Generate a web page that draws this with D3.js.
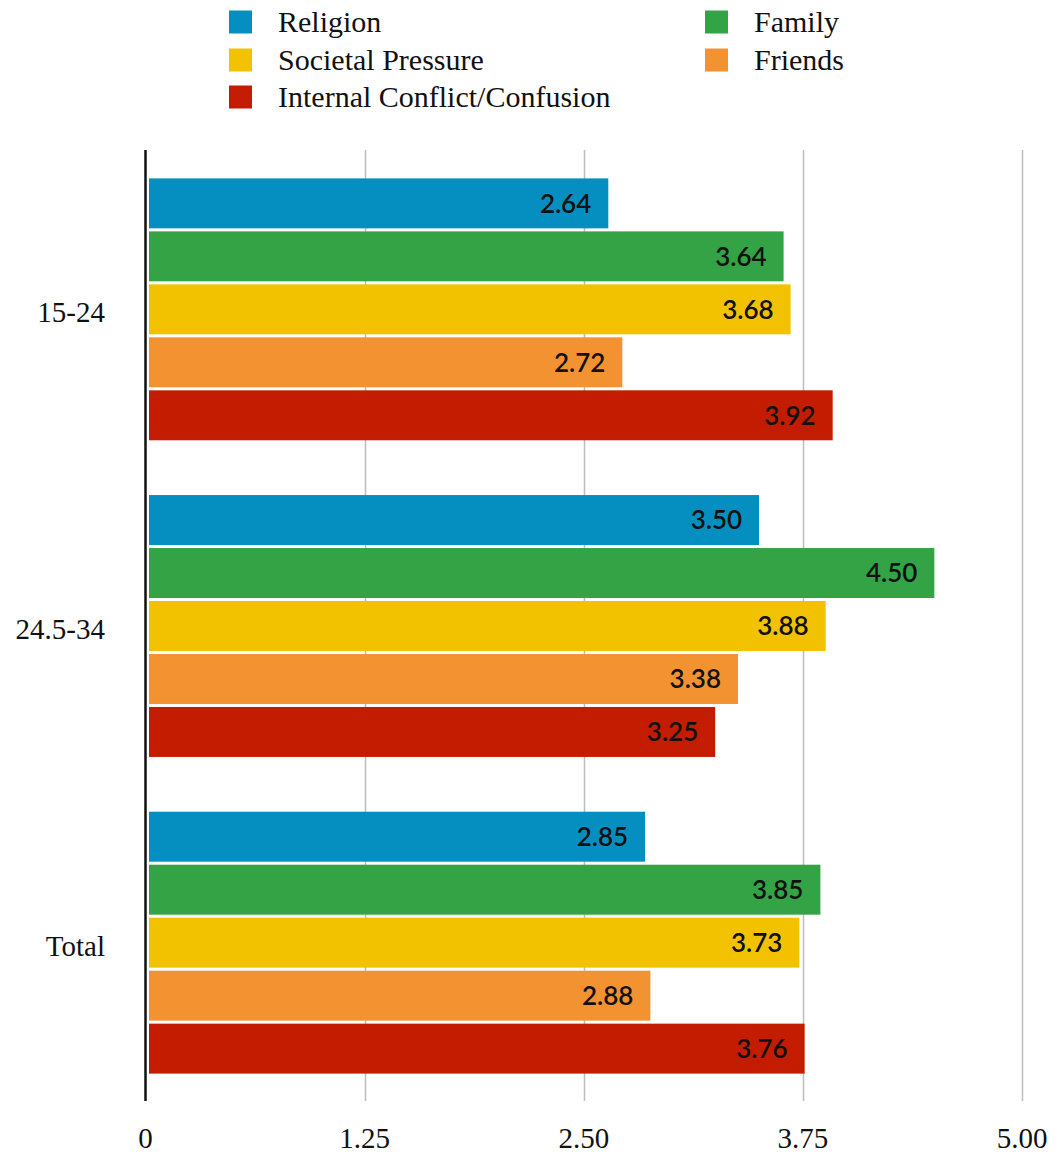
<!DOCTYPE html>
<html>
<head>
<meta charset="utf-8">
<script src="https://cdn.jsdelivr.net/npm/d3@7"></script>
<style>
  html, body { margin: 0; padding: 0; background: #fff; }
  svg { display: block; }
</style>
</head>
<body>
<svg id="chart" width="1058" height="1160"></svg>
<script>
const categories = ["15-24", "24.5-34", "Total"];
const seriesNames = ["Religion", "Family", "Societal Pressure", "Friends", "Internal Conflict/Confusion"];
const religion = [2.64, 3.50, 2.85];
const family = [3.64, 4.50, 3.85];
const societal = [3.68, 3.88, 3.73];
const friends = [2.72, 3.38, 2.88];
const internal = [3.92, 3.25, 3.76];
const seriesValues = [religion, family, societal, friends, internal];
const colors = ["#058fc1", "#34a345", "#f2c200", "#f29230", "#c31c00"];
const tickValues = [0, 1.25, 2.5, 3.75, 5.0];
const tickLabels = ["0", "1.25", "2.50", "3.75", "5.00"];

const svg = d3.select("#chart");
const serif = "'Liberation Serif', 'DejaVu Serif', serif";
const sans = "Lato, 'Open Sans', sans-serif";

const x = d3.scaleLinear().domain([0, 5]).range([145.5, 1022]);
const y0 = d3.scaleBand().domain(categories).range([151, 1101])
  .paddingInner(0.173).paddingOuter(0.0865);
const y1 = d3.scaleBand().domain(seriesNames).range([0, y0.bandwidth()]).paddingInner(0.057);

// gridlines
const grid = svg.append("g");
grid.selectAll("line").data(tickValues.slice(1)).join("line")
  .attr("x1", d => Math.round(x(d)) + 0.5).attr("x2", d => Math.round(x(d)) + 0.5)
  .attr("y1", 150).attr("y2", 1101)
  .attr("stroke", "#bdbdbd").attr("stroke-width", 1.5);

// bars
const rows = [];
categories.forEach((c, ci) => {
  seriesNames.forEach((s, si) => {
    rows.push({cat: c, series: s, value: seriesValues[si][ci], color: colors[si]});
  });
});

const gBars = svg.append("g");
gBars.selectAll("rect").data(rows).join("rect")
  .attr("x", 149)
  .attr("y", d => y0(d.cat) + y1(d.series))
  .attr("width", d => x(d.value) - 149)
  .attr("height", y1.bandwidth())
  .attr("fill", d => d.color);

gBars.selectAll("text").data(rows).join("text")
  .attr("x", d => x(d.value) - 17)
  .attr("y", d => y0(d.cat) + y1(d.series) + y1.bandwidth() / 2)
  .attr("dy", "0.36em")
  .attr("text-anchor", "end")
  .attr("font-family", sans)
  .attr("font-size", 26)
  .attr("font-weight", 600)
  .attr("fill", "#111")
  .text(d => d.value.toFixed(2));

// y axis line
svg.append("line")
  .attr("x1", 145.5).attr("x2", 145.5).attr("y1", 150).attr("y2", 1101)
  .attr("stroke", "#111").attr("stroke-width", 2.5);

// category labels
svg.append("g").selectAll("text").data(categories).join("text")
  .attr("x", 105)
  .attr("y", d => y0(d) + y0.bandwidth() / 2 + 3)
  .attr("dy", "0.35em")
  .attr("text-anchor", "end")
  .attr("font-family", serif)
  .attr("font-size", 29)
  .style("font-variant-numeric", "oldstyle-nums")
  .attr("fill", "#111")
  .text(d => d);

// x tick labels
svg.append("g").selectAll("text").data(tickValues).join("text")
  .attr("x", d => x(d))
  .attr("y", 1148)
  .attr("text-anchor", "middle")
  .attr("font-family", serif)
  .attr("font-size", 29)
  .style("font-variant-numeric", "oldstyle-nums")
  .attr("fill", "#111")
  .text((d, i) => tickLabels[i]);

// legend
const legendPos = [
  {col: 0, row: 0}, {col: 1, row: 0}, {col: 0, row: 1}, {col: 1, row: 1}, {col: 0, row: 2}
];
const colX = [229, 705];
const rowY = [22, 60, 97];
const lg = svg.append("g").selectAll("g").data(seriesNames).join("g")
  .attr("transform", (d, i) => `translate(${colX[legendPos[i].col]},${rowY[legendPos[i].row]})`);
lg.append("rect")
  .attr("x", 0).attr("y", -11.5).attr("width", 23).attr("height", 23)
  .attr("fill", (d, i) => colors[i]);
lg.append("text")
  .attr("x", 49).attr("y", 0).attr("dy", "0.33em")
  .attr("font-family", serif)
  .attr("font-size", 30)
  .attr("fill", "#111")
  .text(d => d);
</script>
</body>
</html>
